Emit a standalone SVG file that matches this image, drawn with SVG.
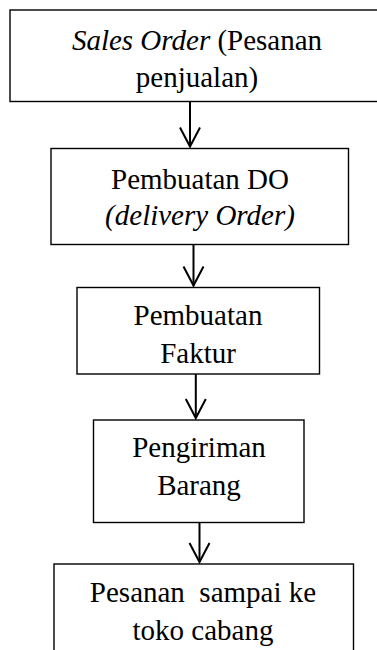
<svg xmlns="http://www.w3.org/2000/svg" width="377" height="650" viewBox="0 0 377 650">
  <style>
    .box { fill: #ffffff; stroke: #000000; stroke-width: 1.4; }
    .t { font-family: 'Liberation Serif', Tinos, 'Times New Roman', 'DejaVu Serif', serif; font-size: 29px; fill: #000000; text-anchor: middle; white-space: pre; }
    .i { font-style: italic; }
    .conn { stroke: #000000; stroke-width: 2; fill: none; marker-end: url(#arrow); }
  </style>
  <defs>
    <marker id="arrow" markerUnits="userSpaceOnUse" orient="auto" refX="0" refY="0" markerWidth="30" markerHeight="30" viewBox="-25 -15 30 30" overflow="visible">
      <path d="M-19,-10 L0,0 L-19,10" fill="none" stroke="#000000" stroke-width="2"/>
    </marker>
  </defs>
  <rect width="377" height="650" fill="#ffffff"/>

  <g id="node-sales-order">
    <rect class="box" x="10" y="10" width="380" height="91.5"/>
    <text class="t" x="197" y="49.5"><tspan class="i">Sales Order</tspan> (Pesanan</text>
    <text class="t" x="197" y="86.5">penjualan)</text>
  </g>

  <g id="node-pembuatan-do">
    <rect class="box" x="51" y="148.5" width="297.5" height="96"/>
    <text class="t" x="200" y="188.5">Pembuatan DO</text>
    <text class="t i" x="200" y="225">(delivery Order)</text>
  </g>

  <g id="node-pembuatan-faktur">
    <rect class="box" x="77" y="287.5" width="242.5" height="86.5"/>
    <text class="t" x="198" y="325">Pembuatan</text>
    <text class="t" x="198" y="363">Faktur</text>
  </g>

  <g id="node-pengiriman-barang">
    <rect class="box" x="93.5" y="420" width="210.5" height="102.5"/>
    <text class="t" x="199" y="457">Pengiriman</text>
    <text class="t" x="199" y="495">Barang</text>
  </g>

  <g id="node-pesanan-sampai">
    <rect class="box" x="54" y="564" width="299.5" height="100"/>
    <text class="t" x="203" y="602">Pesanan  sampai ke</text>
    <text class="t" x="203" y="640">toko cabang</text>
  </g>

  <g id="connectors">
    <line class="conn" x1="190" y1="101.5" x2="190" y2="146.5"/>
    <line class="conn" x1="193.5" y1="244.5" x2="193.5" y2="285.5"/>
    <line class="conn" x1="195.8" y1="374" x2="195.8" y2="418"/>
    <line class="conn" x1="199.5" y1="522.5" x2="199.5" y2="562"/>
  </g>
</svg>
